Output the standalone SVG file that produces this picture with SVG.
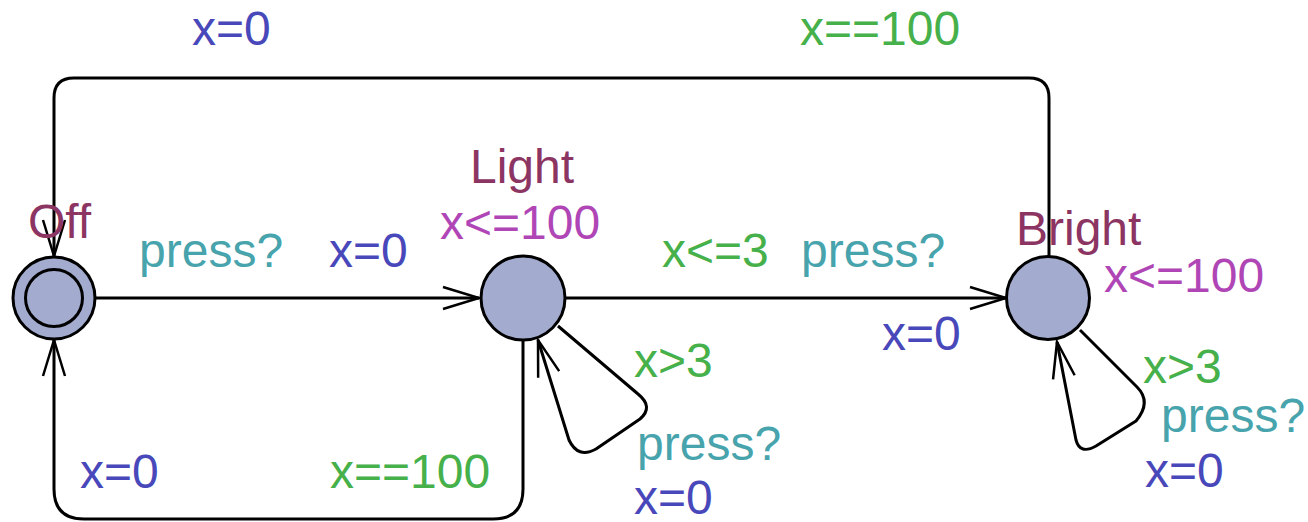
<svg xmlns="http://www.w3.org/2000/svg" width="1308" height="522" viewBox="0 0 1308 522">
<style>
text{font-family:"Liberation Sans",Arial,sans-serif;font-size:48px}
.loc{fill:#a3abcf;stroke:#000;stroke-width:3}
.edge{fill:none;stroke:#000;stroke-width:3;stroke-linejoin:round}
.name{fill:#8c3462}
.inv{fill:#b046b6}
.guard{fill:#46b04a}
.sync{fill:#47a3ac}
.asg{fill:#4848ba}
</style>
<defs>
<marker id="arr" markerUnits="userSpaceOnUse" viewBox="-40 -15 44 30" refX="0" refY="0" markerWidth="44" markerHeight="30" orient="auto" overflow="visible">
<path d="M-36,-11 L0,0 L-36,11" fill="none" stroke="#000" stroke-width="2.5"/>
</marker>
</defs>
<g id="connectors">
<path class="edge" d="M1049,257 V98 Q1049,78 1029,78 H74 Q54,78 54,98 V256" marker-end="url(#arr)"/>
<path class="edge" d="M96,298 H479" marker-end="url(#arr)"/>
<path class="edge" d="M566,298 H1006" marker-end="url(#arr)"/>
<path class="edge" d="M523,340 V489 Q523,519 493,519 H84 Q54,519 54,489 V340" marker-end="url(#arr)"/>
<path class="edge" d="M558,326 L638,394 Q654,407 640,419 L596,449 Q578,459 569,440 L538,340" marker-end="url(#arr)"/>
<path class="edge" d="M1080,330 L1137,387 Q1152,402 1136,421 L1096,446 Q1080,455 1076,440 L1057,342" marker-end="url(#arr)"/>
</g>
<g id="Off">
<circle class="loc" cx="54" cy="298" r="41"/>
<circle cx="54" cy="298" r="28.5" fill="none" stroke="#000" stroke-width="3"/>
<text class="name" x="28" y="238">Off</text>
</g>
<g id="Light">
<circle class="loc" cx="523" cy="298" r="42"/>
<text class="name" x="470" y="183">Light</text>
<text class="inv" x="440" y="239">x&lt;=100</text>
</g>
<g id="Bright">
<circle class="loc" cx="1048" cy="298" r="41.5"/>
<text class="name" x="1016" y="245">Bright</text>
<text class="inv" x="1104" y="292">x&lt;=100</text>
</g>
<g id="labels">
<text class="asg" x="192" y="45">x=0</text>
<text class="guard" x="800" y="45">x==100</text>
<text class="sync" x="139" y="267">press?</text>
<text class="asg" x="329" y="267">x=0</text>
<text class="guard" x="662" y="267">x&lt;=3</text>
<text class="sync" x="801" y="267">press?</text>
<text class="asg" x="882" y="350">x=0</text>
<text class="guard" x="634" y="377">x&gt;3</text>
<text class="sync" x="637" y="460">press?</text>
<text class="asg" x="634" y="514">x=0</text>
<text class="guard" x="1143" y="383">x&gt;3</text>
<text class="sync" x="1161" y="432">press?</text>
<text class="asg" x="1145" y="487">x=0</text>
<text class="asg" x="80" y="488">x=0</text>
<text class="guard" x="330" y="488">x==100</text>
</g>
</svg>
